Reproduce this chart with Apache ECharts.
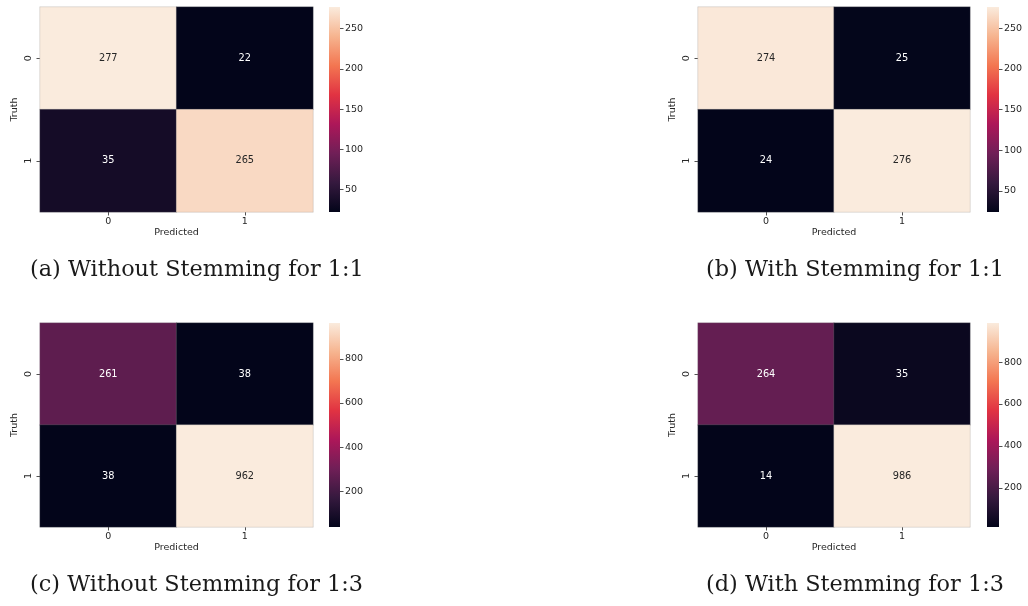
<!DOCTYPE html>
<html><head><meta charset="utf-8">
<script src="https://cdn.jsdelivr.net/npm/echarts@6/dist/echarts.min.js"></script>
<style>html,body{margin:0;padding:0;background:#fff}#c{width:1028px;height:606px}</style>
</head><body><div id="c"></div>
<script>
// ---- data ----
const predictedLabels = ['0', '1'];
const truthLabels = ['0', '1'];
const matrixA = [[277, 22], [35, 265]];
const matrixB = [[274, 25], [24, 276]];
const matrixC = [[261, 38], [38, 962]];
const matrixD = [[264, 35], [14, 986]];
const cbTicks11 = [50, 100, 150, 200, 250];
const cbTicks13 = [200, 400, 600, 800];
const captions = ['(a) Without Stemming for 1:1', '(b) With Stemming for 1:1',
                  '(c) Without Stemming for 1:3', '(d) With Stemming for 1:3'];
// seaborn "rocket" colormap, evenly spaced stops
const rocket = ['#03051a', '#35193e', '#701f57', '#ad1759', '#e13342', '#f37651', '#f6b48f', '#faebdd'];

// ---- layout ----
const panels = [
  { m: matrixA, ticks: cbTicks11, left: 40,  top: 7,   w: 273, h: 205, cbLeft: 329, cbW: 11, capX: 30,  capY: 271 },
  { m: matrixB, ticks: cbTicks11, left: 698, top: 7,   w: 272, h: 205, cbLeft: 987, cbW: 12, capX: 706, capY: 271 },
  { m: matrixC, ticks: cbTicks13, left: 40,  top: 323, w: 273, h: 204, cbLeft: 329, cbW: 11, capX: 30,  capY: 586 },
  { m: matrixD, ticks: cbTicks13, left: 698, top: 323, w: 272, h: 204, cbLeft: 987, cbW: 12, capX: 706, capY: 586 }
];

const SANS = 'DejaVu Sans';
const TXT = '#262626';
const grid = [], xAxis = [], yAxis = [], series = [], visualMap = [], graphic = [];

panels.forEach((p, i) => {
  const flat = p.m.flat();
  const mn = Math.min(...flat), mx = Math.max(...flat);
  grid.push({ left: p.left, top: p.top, width: p.w, height: p.h });
  grid.push({ left: p.cbLeft, top: p.top, width: p.cbW, height: p.h });
  xAxis.push({
    type: 'category', gridIndex: 2 * i, data: predictedLabels,
    name: 'Predicted', nameLocation: 'middle', nameGap: 16,
    nameTextStyle: { fontFamily: SANS, fontSize: 9.5, color: TXT },
    axisLine: { show: false },
    axisTick: { show: true, alignWithLabel: true, length: 3.5, lineStyle: { color: TXT, width: 0.8 } },
    axisLabel: { fontFamily: SANS, fontSize: 9.5, color: TXT, margin: 5 },
    splitLine: { show: false }
  });
  xAxis.push({ type: 'category', gridIndex: 2 * i + 1, data: [''], show: false });
  yAxis.push({
    type: 'category', gridIndex: 2 * i, data: truthLabels, inverse: true,
    name: 'Truth', nameLocation: 'middle', nameGap: 20, nameRotate: 90,
    nameTextStyle: { fontFamily: SANS, fontSize: 9.5, color: TXT },
    axisLine: { show: false },
    axisTick: { show: true, alignWithLabel: true, length: 3.5, lineStyle: { color: TXT, width: 0.8 } },
    axisLabel: { fontFamily: SANS, fontSize: 9.5, color: TXT, rotate: 90, margin: 6 },
    splitLine: { show: false }
  });
  yAxis.push({
    type: 'value', gridIndex: 2 * i + 1, min: mn, max: mx, position: 'right',
    axisLine: { show: false },
    axisTick: { show: true, length: 3.5, customValues: p.ticks, lineStyle: { color: TXT, width: 0.8 } },
    axisLabel: { fontFamily: SANS, fontSize: 9.5, color: TXT, margin: 5, customValues: p.ticks },
    splitLine: { show: false }
  });
  const data = [];
  p.m.forEach((row, r) => row.forEach((v, c) => {
    const t = (v - mn) / (mx - mn);
    data.push({ value: [c, r, v], label: { color: t > 0.6 ? TXT : '#ffffff' } });
  }));
  visualMap.push({
    type: 'continuous', show: false, seriesIndex: series.length,
    min: mn, max: mx, inRange: { color: rocket }
  });
  series.push({
    type: 'heatmap', xAxisIndex: 2 * i, yAxisIndex: 2 * i, data: data,
    label: { show: true, fontFamily: SANS, fontSize: 9.8 },
    itemStyle: { borderColor: 'rgba(140,140,140,0.5)', borderWidth: 0.5 },
    emphasis: { disabled: true }
  });
  series.push({
    type: 'custom', xAxisIndex: 2 * i + 1, yAxisIndex: 2 * i + 1,
    data: [[0, mn, mx]], encode: { x: 0, y: [1, 2] }, silent: true,
    renderItem: (params, api) => {
      const p0 = api.coord([0, api.value(1)]);
      const p1 = api.coord([0, api.value(2)]);
      const w = api.size([1, 0])[0];
      return {
        type: 'rect',
        shape: { x: p0[0] - w / 2, y: p1[1], width: w, height: p0[1] - p1[1] },
        style: { fill: new echarts.graphic.LinearGradient(0, 1, 0, 0,
          rocket.map((c, k) => ({ offset: k / (rocket.length - 1), color: c }))) }
      };
    }
  });
  graphic.push({
    type: 'text', left: p.capX, top: p.capY - 12,
    style: { text: captions[i], fontFamily: 'DejaVu Serif', fontSize: 22.4, fill: '#1a1a1a' }
  });
});

const chart = echarts.init(document.getElementById('c'), null, { renderer: 'canvas' });
chart.setOption({ animation: false, backgroundColor: '#fff', grid, xAxis, yAxis, visualMap, series, graphic });
</script>
</body></html>
